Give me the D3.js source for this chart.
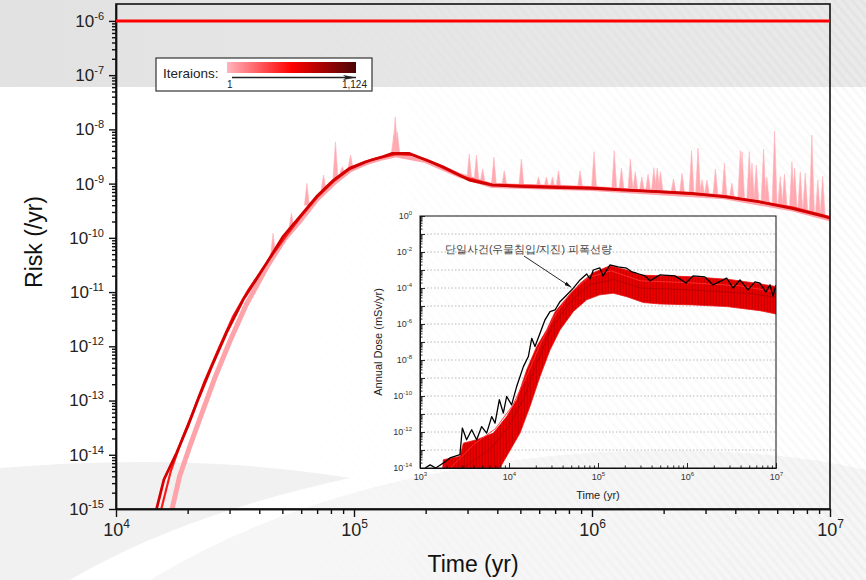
<!DOCTYPE html>
<html>
<head>
<meta charset="utf-8">
<script src="https://cdn.jsdelivr.net/npm/d3@7"></script>
<style>
  body { margin: 0; background: #fff; }
  text { font-family: "Liberation Sans", Arial, sans-serif; }
</style>
</head>
<body>
<div id="chart"></div>
<script>
// ---- main chart data (time in yr, risk in /yr) ----
const xTicks = [1e4, 1e5, 1e6, 1e7];
const yTicks = [1e-15, 1e-14, 1e-13, 1e-12, 1e-11, 1e-10, 1e-9, 1e-8, 1e-7, 1e-6];
const riskLimit = 1e-6;

// darkest iteration curve
const riskMain = [
  [1.48e4, 1.0e-15], [1.59e4, 3.5e-15], [1.8e4, 1.1e-14], [2.0e4, 3.3e-14], [2.21e4, 1.03e-13],
  [2.52e4, 4.2e-13], [2.91e4, 1.77e-12], [3.42e4, 7.2e-12], [4.29e4, 3.4e-11], [5.03e4, 1.05e-10],
  [5.9e4, 2.4e-10], [6.95e4, 5.7e-10], [8.15e4, 1.13e-9], [9.57e4, 1.91e-9], [1.12e5, 2.53e-9],
  [1.32e5, 3.13e-9], [1.45e5, 3.6e-9], [1.71e5, 3.6e-9], [2.01e5, 2.72e-9], [2.36e5, 2.05e-9],
  [2.77e5, 1.44e-9], [3.05e5, 1.16e-9], [3.82e5, 9.4e-10], [5.27e5, 8.8e-10], [7.27e5, 8.4e-10],
  [1.0e6, 8.2e-10], [1.38e6, 7.6e-10], [1.91e6, 7.1e-10], [2.63e6, 6.6e-10], [3.64e6, 5.7e-10],
  [5.01e6, 4.65e-10], [6.92e6, 3.5e-10], [9.55e6, 2.45e-10], [1e7, 2.3e-10]
];
// mid iterations (bright red)
const riskMid = [
  [1.55e4, 1e-15], [1.7e4, 5e-15], [1.9e4, 2e-14], [2.1e4, 6e-14], [2.35e4, 2.2e-13], [2.7e4, 9e-13],
  [3.1e4, 3.5e-12], [3.6e4, 1.1e-11], [4.4e4, 4e-11], [5.2e4, 1.1e-10], [6e4, 2.5e-10], [7e4, 5.6e-10],
  [8.2e4, 1.1e-9], [9.6e4, 1.85e-9], [1.2e5, 2.8e-9], [1.5e5, 3.5e-9], [1.75e5, 3.4e-9], [2.1e5, 2.5e-9],
  [2.8e5, 1.38e-9], [3.8e5, 9.6e-10], [1e6, 8.4e-10], [3.6e6, 5.9e-10], [7e6, 3.6e-10], [1e7, 2.4e-10]
];
// first iterations (light pink)
const riskLight = [
  [1.72e4, 1e-15], [1.85e4, 4e-15], [2.05e4, 1.5e-14], [2.3e4, 6e-14], [2.6e4, 2.6e-13], [3.0e4, 1.2e-12],
  [3.5e4, 5.5e-12], [4.3e4, 2.9e-11], [5.1e4, 9.5e-11], [6e4, 2.2e-10], [7e4, 5.2e-10], [8.2e4, 1.02e-9],
  [9.6e4, 1.78e-9], [1.12e5, 2.4e-9], [1.32e5, 3.0e-9], [1.5e5, 3.4e-9], [2e5, 2.65e-9], [2.8e5, 1.4e-9],
  [3.8e5, 9.2e-10], [1e6, 8.1e-10], [3.6e6, 5.7e-10], [7e6, 3.4e-10], [1e7, 2.25e-10]
];
// spikes of single iterations: [time, peak, level under the spike]
const riskSpikes = [
  [4.57e4, 1.22e-10, 4.8e-11], [5.46e4, 2.84e-10, 1.52e-10], [6.34e4, 1.01e-9, 4.0e-10],
  [7.45e4, 1.44e-9, 7.6e-10], [8.36e4, 5.9e-9, 1.27e-9], [8.93e4, 2.05e-9, 1.57e-9],
  [9.67e4, 3.37e-9, 1.94e-9], [1.47e5, 8e-9, 3.6e-9], [1.49e5, 1.7e-8, 3.66e-9], [1.52e5, 9e-9, 3.6e-9],
  [3.05e5, 3.5e-9, 1.16e-9], [3.27e5, 3.37e-9, 1.07e-9], [3.47e5, 1.86e-9, 1.03e-9],
  [3.87e5, 3.09e-9, 9.4e-10], [4.28e5, 1.73e-9, 9.2e-10], [5.05e5, 2.84e-9, 9.0e-10],
  [5.96e5, 1.32e-9, 8.6e-10], [6.43e5, 1.32e-9, 8.5e-10], [6.82e5, 1.32e-9, 8.4e-10],
  [7.23e5, 1.73e-9, 8.4e-10], [8.91e5, 1.73e-9, 8.2e-10], [1.02e6, 3.86e-9, 8.2e-10],
  [1.24e6, 4.04e-9, 7.9e-10], [1.33e6, 1.94e-9, 7.7e-10], [1.45e6, 2.84e-9, 7.6e-10],
  [1.52e6, 1.66e-9, 7.6e-10], [1.62e6, 1.32e-9, 7.4e-10], [1.72e6, 1.5e-9, 7.3e-10],
  [1.82e6, 1.96e-9, 7.2e-10], [1.88e6, 1.93e-9, 7.2e-10], [1.94e6, 1.66e-9, 7.1e-10],
  [2.2e6, 1.22e-9, 6.9e-10], [2.39e6, 1.55e-9, 6.7e-10], [2.62e6, 4.04e-9, 6.6e-10],
  [2.79e6, 4.53e-9, 6.5e-10], [2.9e6, 1.16e-9, 6.4e-10], [3.04e6, 1.16e-9, 6.3e-10],
  [3.3e6, 1.86e-9, 6.0e-10], [3.6e6, 2.37e-9, 5.7e-10], [3.87e6, 1.01e-9, 5.5e-10],
  [4.2e6, 4.04e-9, 5.3e-10], [4.27e6, 3.86e-9, 5.2e-10], [4.58e6, 3.86e-9, 5.0e-10],
  [4.7e6, 2.37e-9, 4.9e-10], [4.9e6, 2.2e-9, 4.7e-10], [5.26e6, 4.34e-9, 4.5e-10],
  [5.43e6, 1.31e-9, 4.4e-10], [5.85e6, 9.3e-9, 4.2e-10], [6.18e6, 1.34e-9, 4.0e-10],
  [6.44e6, 1.5e-9, 3.8e-10], [6.92e6, 2.53e-9, 3.5e-10], [7.1e6, 1.93e-9, 3.4e-10],
  [7.5e6, 1.66e-9, 3.2e-10], [7.87e6, 1.55e-9, 3.1e-10], [8.39e6, 7.85e-9, 2.9e-10],
  [8.89e6, 1.16e-9, 2.7e-10], [9.31e6, 1.36e-9, 2.6e-10]
];
const legendTitle = "Iteraions:";
const iterFirst = "1", iterLast = "1,124";

// ---- inset data (time in yr, annual dose in mSv/yr) ----
const insetXTicks = [1e3, 1e4, 1e5, 1e6, 1e7];
const insetYLabelTicks = [1e-14, 1e-12, 1e-10, 1e-8, 1e-6, 1e-4, 1e-2, 1];
const insetYPlainTicks = [1e-13, 1e-11, 1e-9, 1e-7, 1e-5, 1e-3, 1e-1];
const insetNote = "단일사건(우물침입/지진) 피폭선량";
const doseBlack = [
  [1.14e3, 1e-14], [1.3e3, 1.5e-14], [1.5e3, 1e-14], [1.83e3, 1.9e-14], [2.17e3, 3.6e-14], [2.81e3, 5.5e-14],
  [2.99e3, 1.66e-12], [3.34e3, 3.7e-13], [3.81e3, 1.33e-12], [4.33e3, 3.7e-13], [4.93e3, 2.0e-12],
  [5.61e3, 8.7e-13], [6.39e3, 7.2e-12], [6.97e3, 3.1e-12], [7.79e3, 6.2e-11], [8.63e3, 1.12e-11],
  [9.42e3, 9.4e-11], [1.07e4, 3.2e-11], [1.22e4, 3.4e-10], [1.45e4, 4.3e-9], [1.65e4, 1.56e-8],
  [1.8e4, 1.6e-7], [1.96e4, 5.6e-8], [2.23e4, 3.1e-7], [2.54e4, 1.7e-6], [2.89e4, 4.9e-6], [3.29e4, 6.0e-6],
  [3.74e4, 1.74e-5], [4.45e4, 4.1e-5], [5.28e4, 9.8e-5], [6.28e4, 2.8e-4], [7.46e4, 6.0e-4], [8.13e4, 3.2e-4],
  [8.85e4, 1.0e-3], [1.05e5, 1.3e-3], [1.14e5, 4.7e-4], [1.36e5, 1.9e-3], [1.68e5, 1.5e-3], [2.1e5, 1.26e-3],
  [2.41e5, 7.8e-4], [2.72e5, 6.6e-4], [3.37e5, 4.7e-4], [3.84e5, 2.5e-4], [4.98e5, 5.4e-4], [7.33e5, 4.7e-4],
  [9.75e5, 1.9e-4], [1.17e6, 4.7e-4], [1.59e6, 4.1e-4], [1.96e6, 1.48e-4], [2.79e6, 3.5e-4], [3.29e6, 1.0e-4],
  [3.94e6, 2.8e-4], [4.85e6, 7.8e-5], [5.8e6, 2.2e-4], [6.6e6, 1.85e-4], [7.7e6, 6.0e-5], [8.57e6, 1.48e-4],
  [9.26e6, 3.6e-5], [1e7, 1.48e-4]
];
const doseRedUpper = [
  [1.8e3, 1e-14], [1.83e3, 2.9e-14], [2.81e3, 4.4e-14], [3.07e3, 2.4e-13], [4.33e3, 3.7e-13], [6.67e3, 8.7e-13],
  [9.4e3, 7.2e-12], [1.22e4, 6.2e-11], [1.58e4, 2.8e-9], [2.05e4, 5.6e-8], [2.65e4, 4.7e-7], [3.29e4, 4.7e-6],
  [4.45e4, 2.8e-5], [6.28e4, 1.8e-4], [8.8e4, 7e-4], [1.36e5, 1.7e-3], [2.1e5, 1.0e-3], [2.97e5, 5.2e-4],
  [1.17e6, 4.2e-4], [3e6, 3.0e-4], [6.6e6, 1.7e-4], [1e7, 1.2e-4]
];
const doseRedLower = [
  [1.8e3, 1e-14], [7.9e3, 1e-14], [1.33e4, 8.7e-13], [1.72e4, 2.6e-11], [2.23e4, 1.2e-9], [2.89e4, 3.6e-8],
  [3.74e4, 4.7e-7], [5.28e4, 4.9e-6], [7.46e4, 2.2e-5], [1.05e5, 4.2e-5], [1.49e5, 5.1e-5], [2.1e5, 3.3e-5],
  [3.23e5, 1.55e-5], [4.98e5, 1.3e-5], [1.18e6, 1.15e-5], [2.79e6, 9.3e-6], [6.6e6, 5.5e-6], [1e7, 3.6e-6]
];
const doseInnerA = [
  [3e3, 1e-14], [6e3, 1e-13], [1e4, 2e-12], [1.5e4, 1e-10], [2e4, 5e-9], [3e4, 6e-7], [5e4, 2e-5],
  [8e4, 1.5e-4], [1.5e5, 3e-4], [3e5, 1e-4], [1e6, 8e-5], [5e6, 5e-5], [1e7, 3e-5]
];
const doseInnerB = [
  [2.2e3, 1e-14], [4e3, 2e-13], [7e3, 1.5e-12], [1.1e4, 3e-11], [1.6e4, 1.5e-9], [2.2e4, 6e-8], [3.2e4, 2.5e-6],
  [5e4, 6e-5], [8e4, 4e-4], [1.4e5, 9e-4], [3e5, 2.5e-4], [1e6, 2e-4], [4e6, 1.3e-4], [1e7, 6e-5]
];

// ---- layout ----
const W = 866, H = 580;
const plot = {left: 116, right: 830, top: 4, bottom: 509};
const inset = {left: 420, right: 776, top: 216, bottom: 468};

const svg = d3.select("#chart").append("svg")
    .attr("width", W)
    .attr("height", H);
const defs = svg.append("defs");

// background: grey band, faint stripes, soft swooshes
const bandGrad = defs.append("linearGradient").attr("id", "bandGrad");
bandGrad.append("stop").attr("offset", "0%").attr("stop-color", "#e2e2e2");
bandGrad.append("stop").attr("offset", "100%").attr("stop-color", "#eaeaea");
const stripes = defs.append("pattern").attr("id", "stripes")
    .attr("width", 7).attr("height", 7)
    .attr("patternUnits", "userSpaceOnUse")
    .attr("patternTransform", "rotate(-40)");
stripes.append("rect").attr("width", 3).attr("height", 7).attr("fill", "#000").attr("opacity", 0.025);
const fadeGrad = defs.append("linearGradient").attr("id", "fadeGrad");
fadeGrad.append("stop").attr("offset", "30%").attr("stop-color", "#fff").attr("stop-opacity", 0);
fadeGrad.append("stop").attr("offset", "100%").attr("stop-color", "#fff").attr("stop-opacity", 1);
defs.append("mask").attr("id", "fadeMask")
  .append("rect").attr("width", W).attr("height", H).attr("fill", "url(#fadeGrad)");
// streaky fill for the dose band
const streaks = defs.append("pattern").attr("id", "streaks")
    .attr("width", 3).attr("height", 10)
    .attr("patternUnits", "userSpaceOnUse");
streaks.append("rect").attr("width", 3).attr("height", 10).attr("fill", "#ec0000");
streaks.append("rect").attr("x", 1.8).attr("width", 1.2).attr("height", 10).attr("fill", "#c80000");

svg.append("rect").attr("width", W).attr("height", H).attr("fill", "#fff");
svg.append("path")
    .attr("d", "M0,468 Q190,452 350,478 Q180,515 70,580 L0,580 Z")
    .attr("fill", "#f1f1f1");
svg.append("path")
    .attr("d", "M150,580 Q330,470 600,452 Q760,445 866,470 L866,580 Z")
    .attr("fill", "#f6f6f6");
svg.append("rect").attr("width", W).attr("height", 87).attr("fill", "url(#bandGrad)");
svg.append("rect").attr("width", W).attr("height", H)
    .attr("fill", "url(#stripes)").attr("mask", "url(#fadeMask)");

// ---- scales ----
const x = d3.scaleLog().domain([1e4, 1e7]).range([plot.left, plot.right]);
const y = d3.scaleLog().domain([1e-15, 2.05e-6]).range([plot.bottom, plot.top]);
const ix = d3.scaleLog().domain([1e3, 1e7]).range([inset.left, inset.right]);
const iy = d3.scaleLog().domain([1e-14, 1]).range([inset.bottom, inset.top]);

function minorsOf(decades) {
  const out = [];
  decades.slice(0, -1).forEach(d => { for (let k = 2; k <= 9; k++) out.push(d * k); });
  return out;
}
function powLabels(g, supSize, lift) {
  g.selectAll(".tick text").each(function(d) {
    const t = d3.select(this), e = Math.round(Math.log10(d));
    t.text(null);
    t.append("tspan").text("10");
    t.append("tspan").attr("font-size", supSize).attr("dy", -lift).text(e);
  });
}

// ---- main plot marks ----
defs.append("clipPath").attr("id", "plotClip")
  .append("rect").attr("x", plot.left).attr("y", plot.top)
  .attr("width", plot.right - plot.left).attr("height", plot.bottom - plot.top);
const marks = svg.append("g").attr("clip-path", "url(#plotClip)");
const line = d3.line().x(d => x(d[0])).y(d => y(d[1]));

marks.append("path").datum(riskLight)
    .attr("d", line).attr("fill", "none")
    .attr("stroke", "#ffa3ab").attr("stroke-width", 5).attr("stroke-linejoin", "round");
marks.selectAll(".spike")
  .data(riskSpikes)
  .join("path")
    .attr("class", "spike")
    .attr("d", d => `M${x(d[0]) - 2.5},${y(d[2])}L${x(d[0])},${y(d[1])}L${x(d[0]) + 2.5},${y(d[2])}Z`)
    .attr("fill", "#ffa8b0")
    .attr("stroke", "#ffb3ba")
    .attr("stroke-width", 0.6);
marks.append("path").datum(riskMid)
    .attr("d", line).attr("fill", "none")
    .attr("stroke", "#ff1a1a").attr("stroke-width", 2.2);
marks.append("path").datum(riskMain)
    .attr("d", line).attr("fill", "none")
    .attr("stroke", "#d20000").attr("stroke-width", 2.8).attr("stroke-linejoin", "round");

// ---- main axes ----
const yAxis = svg.append("g")
    .attr("transform", `translate(${plot.left},0)`)
    .call(d3.axisLeft(y).tickValues(yTicks).tickSize(7).tickPadding(5).tickSizeOuter(0));
svg.append("g")
    .attr("transform", `translate(${plot.left},0)`)
    .call(d3.axisLeft(y).tickValues(minorsOf(yTicks)).tickSize(4).tickFormat("").tickSizeOuter(0));
const xAxis = svg.append("g")
    .attr("transform", `translate(0,${plot.bottom})`)
    .call(d3.axisBottom(x).tickValues(xTicks).tickSize(8).tickPadding(6).tickSizeOuter(0));
svg.append("g")
    .attr("transform", `translate(0,${plot.bottom})`)
    .call(d3.axisBottom(x).tickValues(minorsOf(xTicks)).tickSize(5).tickFormat("").tickSizeOuter(0));
svg.selectAll(".domain, .tick line").attr("stroke", "#111").attr("stroke-width", 1.4);
yAxis.selectAll("text").attr("font-size", 17).attr("fill", "#222");
xAxis.selectAll("text").attr("font-size", 18).attr("fill", "#222");
powLabels(yAxis, 11, 7);
powLabels(xAxis, 12, 8);

svg.append("rect")
    .attr("x", plot.left).attr("y", plot.top)
    .attr("width", plot.right - plot.left).attr("height", plot.bottom - plot.top)
    .attr("fill", "none").attr("stroke", "#111").attr("stroke-width", 1.6);

// risk limit line
svg.append("line")
    .attr("x1", plot.left).attr("x2", plot.right)
    .attr("y1", y(riskLimit)).attr("y2", y(riskLimit))
    .attr("stroke", "#ff0000").attr("stroke-width", 3);

// axis titles
svg.append("text")
    .attr("x", (plot.left + plot.right) / 2).attr("y", 572)
    .attr("text-anchor", "middle").attr("font-size", 23).attr("fill", "#111")
    .text("Time (yr)");
svg.append("text")
    .attr("transform", "translate(42,242) rotate(-90)")
    .attr("text-anchor", "middle").attr("font-size", 23).attr("fill", "#111")
    .text("Risk (/yr)");

// ---- legend ----
const legGrad = defs.append("linearGradient").attr("id", "legGrad");
legGrad.append("stop").attr("offset", "0%").attr("stop-color", "#ffb5bd");
legGrad.append("stop").attr("offset", "50%").attr("stop-color", "#ff0000");
legGrad.append("stop").attr("offset", "100%").attr("stop-color", "#4a0606");
defs.append("marker").attr("id", "legArrow")
    .attr("viewBox", "0 0 13 5").attr("refX", 13).attr("refY", 2.5)
    .attr("markerWidth", 13).attr("markerHeight", 5).attr("markerUnits", "userSpaceOnUse")
    .attr("orient", "auto")
  .append("path").attr("d", "M0,0L13,2.5L0,5L3,2.5Z").attr("fill", "#222");

const legend = svg.append("g");
legend.append("rect")
    .attr("x", 156).attr("y", 58).attr("width", 216).attr("height", 33)
    .attr("fill", "#fff").attr("stroke", "#333").attr("stroke-width", 1.2);
legend.append("rect")
    .attr("x", 227).attr("y", 62).attr("width", 129).attr("height", 11)
    .attr("fill", "url(#legGrad)");
legend.append("text")
    .attr("x", 163).attr("y", 78).attr("font-size", 13.5).attr("fill", "#222")
    .text(legendTitle);
legend.append("line")
    .attr("x1", 232).attr("x2", 356).attr("y1", 77.5).attr("y2", 77.5)
    .attr("stroke", "#222").attr("stroke-width", 1.3).attr("marker-end", "url(#legArrow)");
legend.append("text")
    .attr("x", 227).attr("y", 87.5).attr("font-size", 10).attr("fill", "#222")
    .text(iterFirst);
legend.append("text")
    .attr("x", 367).attr("y", 87.5).attr("text-anchor", "end").attr("font-size", 10).attr("fill", "#222")
    .text(iterLast);

// ---- inset ----
defs.append("clipPath").attr("id", "insetClip")
  .append("rect").attr("x", inset.left).attr("y", inset.top)
  .attr("width", inset.right - inset.left).attr("height", inset.bottom - inset.top);
const ig = svg.append("g");
const iline = d3.line().x(d => ix(d[0])).y(d => iy(d[1]));

// dotted decade grid
ig.selectAll(".igrid")
  .data(insetYPlainTicks.concat(insetYLabelTicks.slice(1, -1)))
  .join("line")
    .attr("x1", inset.left).attr("x2", inset.right)
    .attr("y1", d => iy(d)).attr("y2", d => iy(d))
    .attr("stroke", "#a8a8a8").attr("stroke-width", 0.8).attr("stroke-dasharray", "1.5,2");

const imarks = ig.append("g").attr("clip-path", "url(#insetClip)");
imarks.append("path")
    .attr("d", iline(doseRedUpper.concat(doseRedLower.slice().reverse())) + "Z")
    .attr("fill", "url(#streaks)").attr("stroke", "#ee1010").attr("stroke-width", 0.8);
imarks.append("path").datum(doseInnerB)
    .attr("d", iline).attr("fill", "none").attr("stroke", "#ff3030").attr("stroke-width", 0.9);
imarks.append("path").datum(doseInnerA)
    .attr("d", iline).attr("fill", "none").attr("stroke", "#b00000").attr("stroke-width", 0.8);
imarks.append("path").datum(doseBlack)
    .attr("d", iline).attr("fill", "none")
    .attr("stroke", "#000").attr("stroke-width", 1.3).attr("stroke-linejoin", "round");

// inset axes
const iyAxis = ig.append("g")
    .attr("transform", `translate(${inset.left},0)`)
    .call(d3.axisLeft(iy).tickValues(insetYLabelTicks).tickSize(-5).tickPadding(8).tickSizeOuter(0));
ig.append("g")
    .attr("transform", `translate(${inset.left},0)`)
    .call(d3.axisLeft(iy).tickValues(insetYPlainTicks).tickSize(-5).tickFormat("").tickSizeOuter(0));
ig.append("g")
    .attr("transform", `translate(${inset.left},0)`)
    .call(d3.axisLeft(iy).tickValues(minorsOf(insetYLabelTicks.concat(insetYPlainTicks).sort((a, b) => a - b)))
      .tickSize(-2.5).tickFormat("").tickSizeOuter(0));
const ixAxis = ig.append("g")
    .attr("transform", `translate(0,${inset.bottom})`)
    .call(d3.axisBottom(ix).tickValues(insetXTicks).tickSize(-5).tickPadding(6).tickSizeOuter(0));
ig.append("g")
    .attr("transform", `translate(0,${inset.bottom})`)
    .call(d3.axisBottom(ix).tickValues(minorsOf(insetXTicks)).tickSize(-2.5).tickFormat("").tickSizeOuter(0));
ig.selectAll(".domain, .tick line").attr("stroke", "#111").attr("stroke-width", 0.9);
iyAxis.selectAll("text").attr("font-size", 9).attr("fill", "#333");
ixAxis.selectAll("text").attr("font-size", 9).attr("fill", "#333");
powLabels(iyAxis, 6, 4);
powLabels(ixAxis, 6, 4);

ig.append("rect")
    .attr("x", inset.left).attr("y", inset.top)
    .attr("width", inset.right - inset.left).attr("height", inset.bottom - inset.top)
    .attr("fill", "none").attr("stroke", "#111").attr("stroke-width", 1);

ig.append("text")
    .attr("x", (inset.left + inset.right) / 2).attr("y", 499)
    .attr("text-anchor", "middle").attr("font-size", 11).attr("fill", "#222")
    .text("Time (yr)");
ig.append("text")
    .attr("transform", `translate(382,${(inset.top + inset.bottom) / 2}) rotate(-90)`)
    .attr("text-anchor", "middle").attr("font-size", 11).attr("fill", "#222")
    .text("Annual Dose (mSv/yr)");

// annotation
defs.append("marker").attr("id", "noteArrow")
    .attr("viewBox", "0 0 7 4").attr("refX", 7).attr("refY", 2)
    .attr("markerWidth", 7).attr("markerHeight", 4).attr("markerUnits", "userSpaceOnUse")
    .attr("orient", "auto")
  .append("path").attr("d", "M0,0L7,2L0,4Z").attr("fill", "#111");
ig.append("text")
    .attr("x", 445).attr("y", 253)
    .attr("font-family", "'Noto Sans CJK KR', sans-serif")
    .attr("font-size", 10.5).attr("fill", "#444")
    .text(insetNote);
ig.append("line")
    .attr("x1", 524).attr("y1", 256).attr("x2", ix(5.0e4)).attr("y2", iy(1.1e-4))
    .attr("stroke", "#111").attr("stroke-width", 0.9).attr("marker-end", "url(#noteArrow)");
</script>
</body>
</html>
